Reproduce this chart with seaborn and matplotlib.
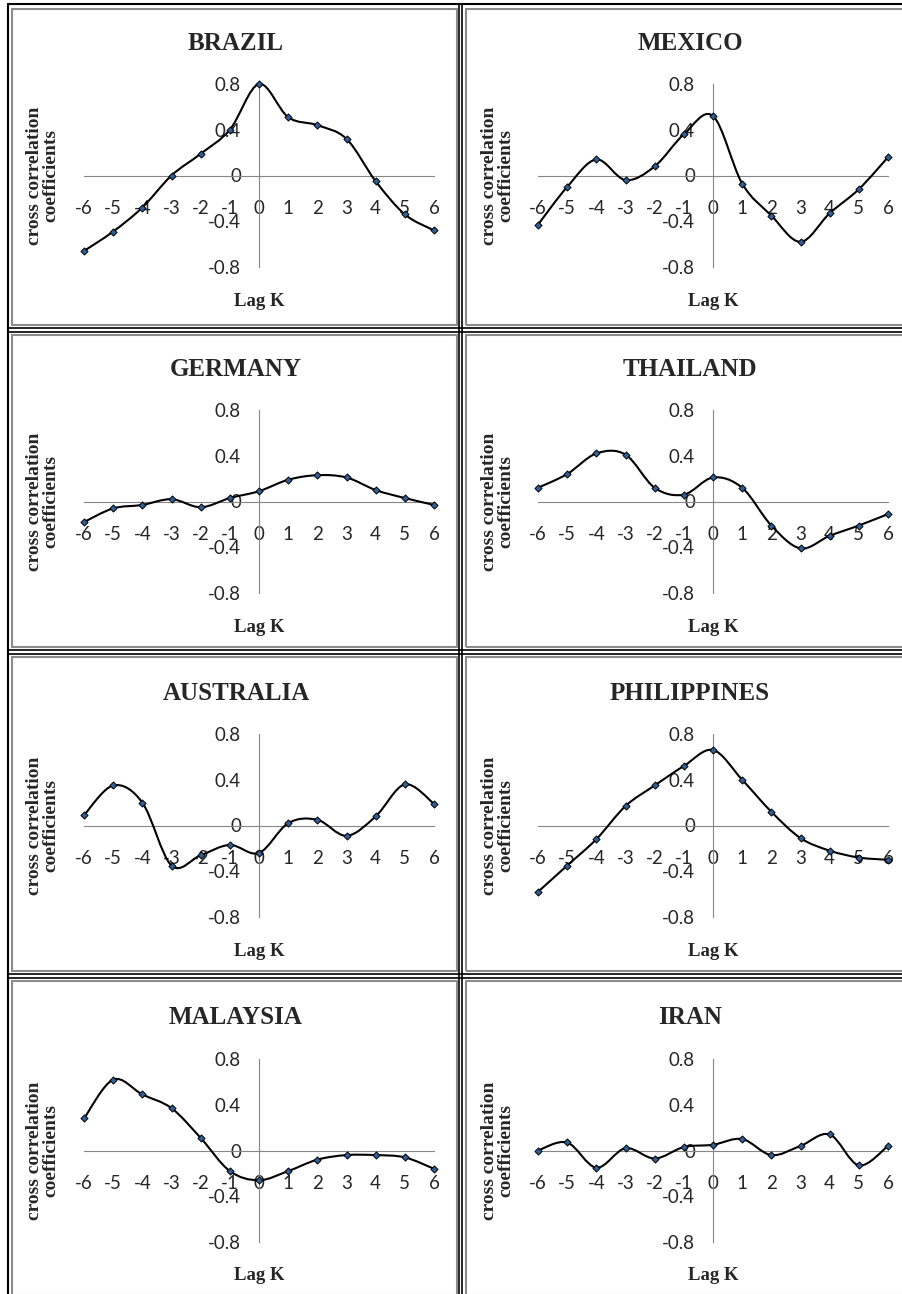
import numpy as np
import matplotlib
matplotlib.use('Agg')
import matplotlib.pyplot as plt
import seaborn as sns
from matplotlib.path import Path
from matplotlib.patches import PathPatch, Rectangle
from matplotlib.lines import Line2D

sns.set_theme(style='white')
plt.rcParams['font.family'] = ['Lato', 'DejaVu Sans']
plt.rcParams['axes.unicode_minus'] = False

lags = [-6, -5, -4, -3, -2, -1, 0, 1, 2, 3, 4, 5, 6]
countries = ['BRAZIL', 'MEXICO', 'GERMANY', 'THAILAND',
             'AUSTRALIA', 'PHILIPPINES', 'MALAYSIA', 'IRAN']

brazil = [-0.66, -0.49, -0.28, 0.00, 0.19, 0.40, 0.80, 0.51, 0.44, 0.32, -0.05, -0.34, -0.48]
mexico = [-0.43, -0.10, 0.14, -0.04, 0.08, 0.36, 0.52, -0.07, -0.35, -0.58, -0.33, -0.12, 0.16]
germany = [-0.18, -0.06, -0.03, 0.02, -0.05, 0.03, 0.09, 0.19, 0.23, 0.21, 0.10, 0.03, -0.03]
thailand = [0.12, 0.24, 0.42, 0.41, 0.12, 0.06, 0.21, 0.12, -0.21, -0.41, -0.30, -0.21, -0.11]
australia = [0.09, 0.35, 0.20, -0.35, -0.26, -0.17, -0.24, 0.02, 0.05, -0.09, 0.08, 0.36, 0.19]
philippines = [-0.58, -0.35, -0.12, 0.17, 0.35, 0.52, 0.66, 0.40, 0.12, -0.11, -0.22, -0.28, -0.30]
malaysia = [0.28, 0.62, 0.49, 0.37, 0.11, -0.18, -0.26, -0.18, -0.08, -0.04, -0.04, -0.06, -0.16]
iran = [0.00, 0.07, -0.15, 0.02, -0.07, 0.03, 0.05, 0.10, -0.04, 0.04, 0.14, -0.13, 0.04]

series = [brazil, mexico, germany, thailand, australia, philippines, malaysia, iran]
yticks = [-0.8, -0.4, 0, 0.4, 0.8]
ytick_labels = ['-0.8', '-0.4', '0', '0.4', '0.8']

W, H = 902, 1294
fig = plt.figure(figsize=(W / 100, H / 100), dpi=100)


def fx(px):
    return px / W


def fy(py):
    return 1 - py / H


def smooth_path(x, y):
    # excel style smoothed line, bezier segments through the points
    pts = np.column_stack([x, y]).astype(float)
    n = len(pts)
    verts = [pts[0]]
    codes = [Path.MOVETO]
    for i in range(n - 1):
        p0 = pts[max(i - 1, 0)]
        p1 = pts[i]
        p2 = pts[i + 1]
        p3 = pts[min(i + 2, n - 1)]
        verts += [p1 + (p2 - p0) / 6, p2 - (p3 - p1) / 6, p2]
        codes += [Path.CURVE4] * 3
    return Path(verts, codes)


axis_gray = '#868686'
col_left = [84, 538]
col_title = [236, 690]
col_ylab = [43, 498]
row_top = [84, 410, 734, 1059]
ax_w, ax_h = 350, 183
bounds = [4, 330, 652, 976, 1300]

for i, (name, vals) in enumerate(zip(countries, series)):
    r, c = divmod(i, 2)
    left = col_left[c]
    top = row_top[r]
    ax = fig.add_axes([fx(left), fy(top + ax_h), ax_w / W, ax_h / H])
    ax.patch.set_alpha(0)
    ax.add_patch(PathPatch(smooth_path(lags, vals), facecolor='none',
                           edgecolor='black', lw=1.5, zorder=3, clip_on=False))
    sns.scatterplot(x=lags, y=vals, marker='D', s=13, color='#2f5f96',
                    edgecolor='black', linewidth=0.7, ax=ax, zorder=4, clip_on=False)
    ax.set_xlim(-6, 6)
    ax.set_ylim(-0.8, 0.8)
    for s in ['top', 'right']:
        ax.spines[s].set_visible(False)
    for s in ['left', 'bottom']:
        ax.spines[s].set_position(('data', 0))
        ax.spines[s].set_color(axis_gray)
        ax.spines[s].set_linewidth(0.8)
    ax.set_xticks(lags)
    ax.set_xticklabels([str(k) for k in lags])
    ax.set_yticks(yticks)
    ax.set_yticklabels(ytick_labels)
    ax.tick_params(axis='x', direction='out', length=4.5, width=0.8, color=axis_gray,
                   pad=13, labelsize=13.5, labelcolor='#262626')
    ax.tick_params(axis='y', direction='out', length=4, width=0.8, color=axis_gray,
                   pad=9, labelsize=13.5, labelcolor='#262626')
    ax.set_xlabel('')
    ax.set_ylabel('')
    ax.grid(False)

    fig.text(fx(col_title[c]), fy(top - 41), name, ha='center', va='center',
             family='Liberation Serif', weight='bold', fontsize=18)
    fig.text(fx(left + ax_w / 2), fy(top + ax_h + 34), 'Lag K', ha='center', va='center',
             family='Liberation Serif', weight='bold', fontsize=13.5)
    fig.text(fx(col_ylab[c]), fy(top + ax_h / 2), 'cross correlation\ncoefficients',
             rotation=90, ha='center', va='center', linespacing=0.95,
             family='Liberation Serif', weight='bold', fontsize=14)

# table frame and chart area borders
gray = '#8c8c8c'
for r in range(4):
    y0 = bounds[r] + 5
    y1 = bounds[r + 1] - 5
    for x0, x1 in [(12, 457), (466, 910)]:
        fig.add_artist(Rectangle((fx(x0), fy(y1)), (x1 - x0) / W, (y1 - y0) / H,
                                 transform=fig.transFigure, fill=False,
                                 edgecolor=gray, lw=1.5))

fig.add_artist(Line2D([fx(8), fx(8)], [0, fy(4)], color='black', lw=1.5))
fig.add_artist(Line2D([fx(8), 1], [fy(4), fy(4)], color='black', lw=1.5))
for xv in [459, 462.5]:
    fig.add_artist(Line2D([fx(xv), fx(xv)], [0, fy(4)], color='black', lw=1.2))
for b in bounds[1:4]:
    for yv in [b - 2, b + 1.5]:
        fig.add_artist(Line2D([fx(8), 1], [fy(yv), fy(yv)], color='black', lw=1.2))

fig.savefig('out.png', dpi=100)
